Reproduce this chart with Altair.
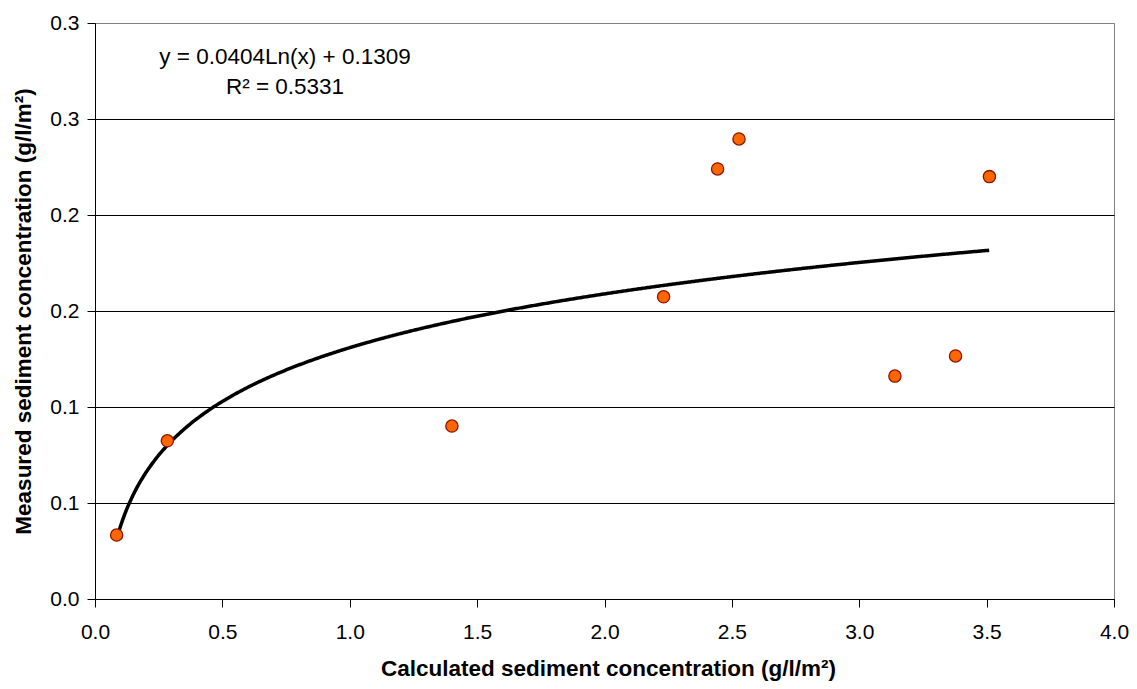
import altair as alt
import pandas as pd

# Observed vs. calculated sediment concentration (g/l/m²)
calculated = [0.085, 0.284, 1.401, 2.232, 2.444, 2.528, 3.140, 3.378, 3.511]
measured = [0.0333, 0.0824, 0.0901, 0.1574, 0.2240, 0.2396, 0.1161, 0.1266, 0.2200]

# Logarithmic trendline: y = a*ln(x) + b
trend_slope = 0.0404
trend_intercept = 0.1309
r_squared = 0.5331

x_ticks = [0.0, 0.5, 1.0, 1.5, 2.0, 2.5, 3.0, 3.5, 4.0]
y_ticks = [0.0, 0.05, 0.10, 0.15, 0.20, 0.25, 0.30]
y_tick_labels = ["0.0", "0.1", "0.1", "0.2", "0.2", "0.3", "0.3"]

FONT = "Liberation Sans"
W, H = 1019, 576

points_df = pd.DataFrame({"calc": calculated, "meas": measured})

x_scale = alt.Scale(domain=[0, 4], nice=False, zero=False)
y_scale = alt.Scale(domain=[0, 0.3], nice=False, zero=False)

label_expr = "[" + ",".join(f"'{s}'" for s in y_tick_labels) + "][round(datum.value * 20)]"

x_axis = alt.Axis(
    values=x_ticks, format=".1f", grid=False, labelFlush=False,
    tickSize=8, labelPadding=14, tickColor="black", domainColor="black",
    title="Calculated sediment concentration (g/l/m²)",
    titleX=513, titleY=69, titleAlign="center", titleBaseline="middle",
)
y_axis = alt.Axis(
    values=y_ticks, labelExpr=label_expr, grid=True, labelFlush=False,
    gridColor={"condition": {"test": "datum.value >= 0.29", "value": "#808080"}, "value": "black"},
    gridWidth=1, tickSize=8, labelPadding=8, tickColor="black", domainColor="black",
    title="Measured sediment concentration (g/l/m²)",
    titleX=-72, titleY=H / 2, titleAngle=270, titleAlign="center", titleBaseline="middle",
)

trend = (
    alt.Chart(alt.sequence(min(calculated), max(calculated) + 0.001, 0.005, as_="calc"))
    .transform_calculate(meas=f"{trend_slope} * log(datum.calc) + {trend_intercept}")
    .mark_line(color="black", strokeWidth=3.5)
    .encode(
        x=alt.X("calc:Q", scale=x_scale, axis=x_axis),
        y=alt.Y("meas:Q", scale=y_scale, axis=y_axis),
    )
)

points = (
    alt.Chart(points_df)
    .mark_point(shape="circle", filled=True, fill="#FF6600", stroke="#8B1500",
                strokeWidth=1.3, size=150, opacity=1)
    .encode(x=alt.X("calc:Q", scale=x_scale), y=alt.Y("meas:Q", scale=y_scale))
)

eq_line = (
    alt.Chart(pd.DataFrame({"t": [f"y = {trend_slope}Ln(x) + {trend_intercept}"]}))
    .mark_text(font=FONT, fontSize=22.5, align="center", baseline="middle", color="black")
    .encode(text="t:N", x=alt.value(190), y=alt.value(34))
)
r2_line = (
    alt.Chart(pd.DataFrame({"t": [f"R² = {r_squared}"]}))
    .mark_text(font=FONT, fontSize=22.5, align="center", baseline="middle", color="black")
    .encode(text="t:N", x=alt.value(190), y=alt.value(64))
)

chart = (
    alt.layer(trend, points, eq_line, r2_line)
    .properties(
        width=W, height=H,
        autosize=alt.AutoSizeParams(type="none"),
        padding={"left": 95, "top": 23, "right": 23, "bottom": 90},
        background="white",
    )
    .configure_view(stroke="#808080", strokeWidth=1)
    .configure_axis(
        labelFont=FONT, labelFontSize=21, labelColor="black",
        titleFont=FONT, titleFontSize=22.5, titleFontWeight="bold", titleColor="black",
    )
)

chart.save("out.html", embed_options={"renderer": "svg", "actions": False})
